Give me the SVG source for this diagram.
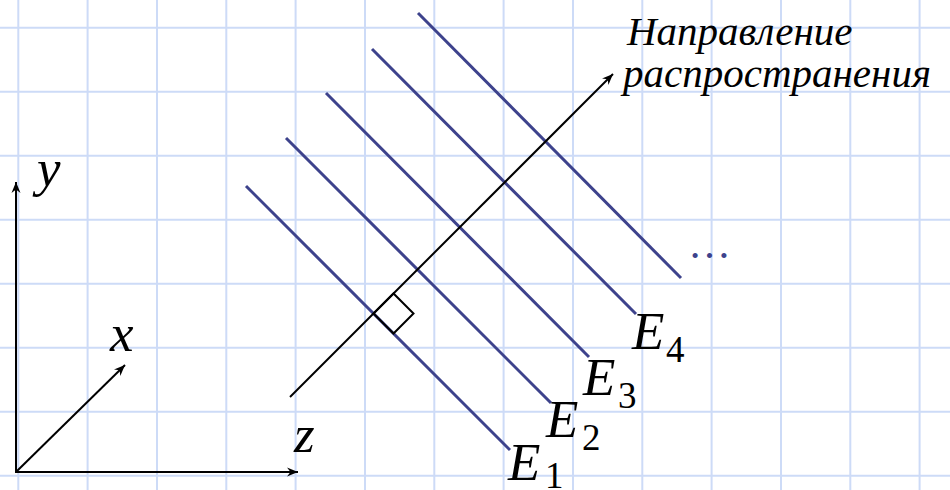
<svg xmlns="http://www.w3.org/2000/svg" width="950" height="490" viewBox="0 0 950 490">
<style>
.grid line{stroke:#cddbf7;stroke-width:2}
.ax{stroke:#000;stroke-width:2;fill:none}
.wave{stroke:#3d428c;stroke-width:3;stroke-linecap:butt}
text{font-family:"Liberation Serif","Times New Roman","DejaVu Serif",serif}
.it{font-style:italic;fill:#000}
.sub{font-size:37px;fill:#000}
.var{font-size:53px}
</style>
<defs>
<marker id="arr" viewBox="-12 -6 14 12" markerWidth="14" markerHeight="12" refX="0" refY="0" orient="auto" markerUnits="userSpaceOnUse">
<path d="M0,0 L-11,-4.5 L-7.5,0 L-11,4.5 Z" fill="#000"/>
</marker>
</defs>
<rect width="950" height="490" fill="#fff"/>
<g class="grid">
<line x1="18.3" y1="0" x2="18.3" y2="490"/>
<line x1="87.6" y1="0" x2="87.6" y2="490"/>
<line x1="157" y1="0" x2="157" y2="490"/>
<line x1="226.3" y1="0" x2="226.3" y2="490"/>
<line x1="295.6" y1="0" x2="295.6" y2="490"/>
<line x1="365" y1="0" x2="365" y2="490"/>
<line x1="434.3" y1="0" x2="434.3" y2="490"/>
<line x1="503.6" y1="0" x2="503.6" y2="490"/>
<line x1="573" y1="0" x2="573" y2="490"/>
<line x1="642.3" y1="0" x2="642.3" y2="490"/>
<line x1="711.6" y1="0" x2="711.6" y2="490"/>
<line x1="781" y1="0" x2="781" y2="490"/>
<line x1="850.3" y1="0" x2="850.3" y2="490"/>
<line x1="919.6" y1="0" x2="919.6" y2="490"/>
<line x1="0" y1="27.7" x2="950" y2="27.7"/>
<line x1="0" y1="91.7" x2="950" y2="91.7"/>
<line x1="0" y1="155.7" x2="950" y2="155.7"/>
<line x1="0" y1="219.7" x2="950" y2="219.7"/>
<line x1="0" y1="283.7" x2="950" y2="283.7"/>
<line x1="0" y1="347.7" x2="950" y2="347.7"/>
<line x1="0" y1="411.7" x2="950" y2="411.7"/>
<line x1="0" y1="475.7" x2="950" y2="475.7"/>
</g>
<g id="axes">
<line class="ax" x1="16" y1="473" x2="16" y2="182" marker-end="url(#arr)"/>
<line class="ax" x1="15" y1="472" x2="298" y2="472" marker-end="url(#arr)"/>
<line class="ax" x1="17" y1="471" x2="125" y2="365" marker-end="url(#arr)"/>
<text class="it var" x="37" y="186">y</text>
<text class="it var" x="110" y="351">x</text>
<text class="it var" x="294" y="452">z</text>
</g>
<g id="waves">
<line class="wave" x1="246" y1="186" x2="510" y2="450"/>
<line class="wave" x1="286" y1="138" x2="551" y2="403"/>
<line class="wave" x1="326" y1="93" x2="589" y2="357"/>
<line class="wave" x1="372" y1="49" x2="636" y2="314"/>
<line class="wave" x1="418" y1="13" x2="681" y2="278"/>
<text x="688" y="258" font-size="43" fill="#3d428c">…</text>
</g>
<g id="propagation">
<line class="ax" x1="290" y1="397" x2="613" y2="74" marker-end="url(#arr)"/>
<path class="ax" d="M373.5,313.5 L393.5,293.5 L413.5,313.5 L393.5,333.5 Z"/>
<text class="it" font-size="41" x="627" y="45">Направление</text>
<text class="it" font-size="41" x="623" y="87">распространения</text>
</g>
<g id="labels">
<text class="it var" x="508" y="480">E</text><text class="sub" x="545" y="488">1</text>
<text class="it var" x="546" y="437">E</text><text class="sub" x="582" y="450">2</text>
<text class="it var" x="583" y="395">E</text><text class="sub" x="618" y="408">3</text>
<text class="it var" x="632" y="349">E</text><text class="sub" x="666" y="362">4</text>
</g>
</svg>
